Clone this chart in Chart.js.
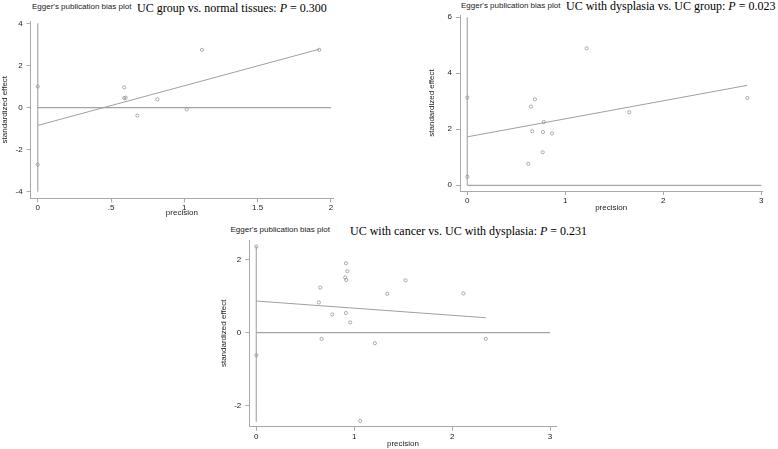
<!DOCTYPE html>
<html>
<head>
<meta charset="utf-8">
<script src="https://cdn.jsdelivr.net/npm/chart.js@4.4.1/dist/chart.umd.min.js"></script>
<style>
body{margin:0;background:#fff;width:778px;height:449px;overflow:hidden;position:relative;}
canvas{position:absolute;left:0;top:0;}
.sub{position:absolute;font-family:"Liberation Sans",Arial,sans-serif;font-size:8px;line-height:8px;color:#222;white-space:nowrap;}
.ttl{position:absolute;font-family:"Liberation Serif","Times New Roman",serif;font-size:12px;line-height:12px;color:#000;white-space:nowrap;}
</style>
</head>
<body>
<div class="sub" style="left:32px;top:2.5px">Egger's publication bias plot</div>
<div class="ttl" style="left:137px;top:1.7px">UC group vs. normal tissues: <i>P</i> = 0.300</div>
<div class="sub" style="left:461px;top:2.2px">Egger's publication bias plot</div>
<div class="ttl" style="left:566px;top:0px">UC with dysplasia vs. UC group: <i>P</i> = 0.023</div>
<div class="sub" style="left:230.5px;top:225.5px">Egger's publication bias plot</div>
<div class="ttl" style="left:350px;top:225px">UC with cancer vs. UC with dysplasia: <i>P</i> = 0.231</div>
<canvas id="c1" width="778" height="449"></canvas>
<canvas id="c2" width="778" height="449"></canvas>
<canvas id="c3" width="778" height="449"></canvas>
<script>
// UC group vs. normal tissues
var prec1 = [0, 0, 0.59, 0.59, 0.60, 0.68, 0.816, 1.016, 1.12, 1.92];
var eff1  = [1.0, -2.71, 0.96, 0.45, 0.47, -0.38, 0.39, -0.09, 2.74, 2.74];
var fitX1 = [0, 1.92];
var fitY1 = [-0.85, 2.77];
var ciY1  = [-4, 4];
var zeroX1 = [0, 2];
var xTicks1 = [0, 0.5, 1, 1.5, 2];
var xLabels1 = ['0', '.5', '1', '1.5', '2'];
var yTicks1 = [-4, -2, 0, 2, 4];

// UC with dysplasia vs. UC group
var prec2 = [0, 0, 1.218, 0.69, 0.65, 0.78, 0.663, 0.772, 0.864, 0.769, 0.622, 1.653, 2.857];
var eff2  = [3.13, 0.31, 4.89, 3.07, 2.81, 2.26, 1.93, 1.90, 1.85, 1.18, 0.77, 2.61, 3.12];
var fitX2 = [0, 2.857];
var fitY2 = [1.73, 3.57];
var ciY2  = [0, 6];
var zeroX2 = [0, 3];
var xTicks2 = [0, 1, 2, 3];
var xLabels2 = ['0', '1', '2', '3'];
var yTicks2 = [0, 2, 4, 6];

// UC with cancer vs. UC with dysplasia
var prec3 = [0, 0, 0.915, 0.93, 0.908, 0.918, 0.653, 0.639, 0.776, 0.915, 0.959, 0.667, 1.211, 1.337, 1.524, 2.116, 2.344, 1.061];
var eff3  = [2.37, -0.62, 1.91, 1.69, 1.52, 1.45, 1.24, 0.83, 0.50, 0.54, 0.28, -0.17, -0.29, 1.07, 1.44, 1.08, -0.17, -2.43];
var fitX3 = [0, 2.344];
var fitY3 = [0.87, 0.41];
var ciY3  = [-2.45, 2.37];
var zeroX3 = [0, 3];
var xTicks3 = [0, 1, 2, 3];
var xLabels3 = ['0', '1', '2', '3'];
var yTicks3 = [-2, 0, 2];

var AXIS = '#a9a9a9';
var FONT = '"Liberation Sans", Arial, sans-serif';

function pts(xs, ys) {
    var out = [];
    for (var i = 0; i < xs.length; i++) out.push({x: xs[i], y: ys[i]});
    return out;
}

function makeChart(id, d, g) {
    var ctx = document.getElementById(id).getContext('2d');
    return new Chart(ctx, {
        type: 'scatter',
        data: {
            datasets: [
                {data: pts(d.prec, d.eff), pointRadius: 1.6, pointBorderWidth: 0.7,
                 borderColor: '#8a8a8a', backgroundColor: 'rgba(0,0,0,0)', order: 1},
                {type: 'line', data: pts(d.fitX, d.fitY), borderColor: '#a0a0a0', borderWidth: 1,
                 pointRadius: 0, order: 2},
                {type: 'line', data: pts(d.zeroX, [0, 0]), borderColor: '#a4a4a4', borderWidth: 1.2,
                 pointRadius: 0, order: 3},
                {type: 'line', data: pts([0, 0], d.ciY), borderColor: '#b0b0b0', borderWidth: 1.3,
                 pointRadius: 0, order: 4}
            ]
        },
        options: {
            responsive: false,
            animation: false,
            events: [],
            layout: {padding: g.pad},
            plugins: {legend: {display: false}, tooltip: {enabled: false}},
            scales: {
                x: {
                    type: 'linear', min: g.xMin, max: g.xMax,
                    afterBuildTicks: function (s) { s.ticks = d.xTicks.map(function (v) { return {value: v}; }); },
                    afterFit: function (s) { s.height = g.xH; },
                    grid: {drawOnChartArea: false, drawTicks: true, tickLength: 4, color: AXIS},
                    border: {display: true, color: AXIS, width: 1},
                    ticks: {padding: 1, color: '#222', font: {size: 8, family: FONT}, maxRotation: 0, autoSkip: false,
                            callback: function (v, i) { return d.xLabels[i]; }},
                    title: {display: true, text: 'precision', color: '#222', font: {size: 8, family: FONT}, padding: 0}
                },
                y: {
                    type: 'linear', min: g.yMin, max: g.yMax,
                    afterBuildTicks: function (s) { s.ticks = d.yTicks.map(function (v) { return {value: v}; }); },
                    afterFit: function (s) { s.width = g.yW; },
                    grid: {drawOnChartArea: false, drawTicks: true, tickLength: 4, color: AXIS},
                    border: {display: true, color: AXIS, width: 1},
                    ticks: {padding: 4, color: '#222', font: {size: 8, family: FONT}, autoSkip: false},
                    title: {display: true, text: 'standardized effect', color: '#222', font: {size: 8, family: FONT}, padding: 0}
                }
            }
        }
    });
}

makeChart('c1',
    {prec: prec1, eff: eff1, fitX: fitX1, fitY: fitY1, ciY: ciY1, zeroX: zeroX1,
     xTicks: xTicks1, xLabels: xLabels1, yTicks: yTicks1},
    {pad: {left: 0, top: 21, right: 445, bottom: 231.2}, yW: 30.7, xH: 19.5,
     xMin: -0.048, xMax: 2.014, yMin: -4.31, yMax: 4.11});

makeChart('c2',
    {prec: prec2, eff: eff2, fitX: fitX2, fitY: fitY2, ciY: ciY2, zeroX: zeroX2,
     xTicks: xTicks2, xLabels: xLabels2, yTicks: yTicks2},
    {pad: {left: 426.9, top: 15, right: 15.7, bottom: 236.7}, yW: 33.1, xH: 21.3,
     xMin: -0.0745, xMax: 3.01, yMin: -0.204, yMax: 6.082});

makeChart('c3',
    {prec: prec3, eff: eff3, fitX: fitX3, fitY: fitY3, ciY: ciY3, zeroX: zeroX3,
     xTicks: xTicks3, xLabels: xLabels3, yTicks: yTicks3},
    {pad: {left: 219.2, top: 240, right: 221.3, bottom: 0.2}, yW: 30.1, xH: 22.1,
     xMin: -0.0715, xMax: 3.068, yMin: -2.589, yMax: 2.55});
</script>
</body>
</html>
